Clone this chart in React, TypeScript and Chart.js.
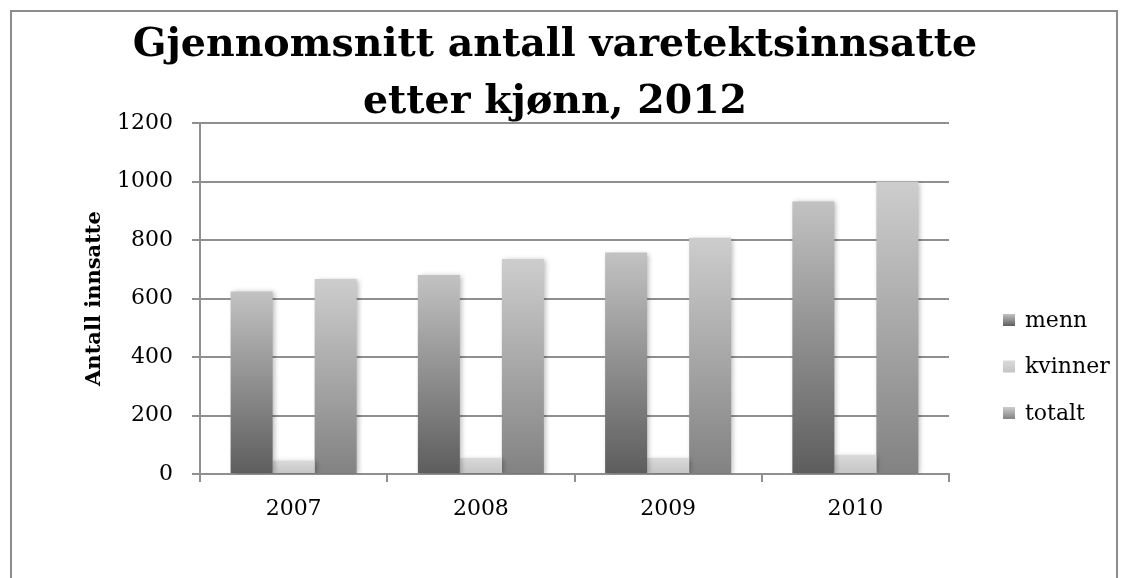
import React, { useEffect, useRef } from "react";
import { Chart, registerables } from "chart.js";

Chart.register(...registerables);

// ---- data ----
const years = ["2007", "2008", "2009", "2010"];
const menn = [624, 680, 757, 932];
const kvinner = [45, 55, 55, 65];
const totalt = [667, 735, 808, 1000];
const seriesLabels = ["menn", "kvinner", "totalt"];
const titleLines = ["Gjennomsnitt antall varetektsinnsatte", "etter kjønn, 2012"];
const yAxisTitle = "Antall innsatte";
const yMin = 0;
const yMax = 1200;
const yStep = 200;

// ---- styles ----
const FONT = "'DejaVu Serif', 'Liberation Serif', serif";
const GRID = "#8f8f8f";
const gradients: [string, string][] = [
  ["#5d5d5d", "#c2c2c2"],
  ["#c4c4c4", "#dadada"],
  ["#828282", "#cdcdcd"],
];

function barGradient(c: any, idx: number) {
  const [bottom, top] = gradients[idx];
  const chart = c.chart;
  const y = chart.scales && chart.scales.y;
  if (!chart.chartArea || !y || c.type !== "data") return bottom;
  const v = c.parsed ? c.parsed.y : c.raw;
  const yTop = y.getPixelForValue(v);
  const yBot = y.getPixelForValue(0);
  if (!isFinite(yTop) || !isFinite(yBot) || Math.abs(yTop - yBot) < 0.5) return bottom;
  const g = chart.ctx.createLinearGradient(0, yBot, 0, yTop);
  g.addColorStop(0, bottom);
  g.addColorStop(1, top);
  return g;
}

const shadowPlugin = {
  id: "barShadow",
  beforeDatasetsDraw(chart: any) {
    const c = chart.ctx;
    c.save();
    c.shadowColor = "rgba(0,0,0,0.28)";
    c.shadowBlur = 5;
    c.shadowOffsetX = 2;
    c.shadowOffsetY = 1;
  },
  afterDatasetsDraw(chart: any) {
    chart.ctx.restore();
  },
};

const legendPlugin = {
  id: "sideLegend",
  afterDraw(chart: any) {
    const c = chart.ctx;
    const boxX = chart.chartArea.right + 54;
    const firstY = 308;
    const gap = 46.5;
    c.save();
    c.font = `22px ${FONT}`;
    c.textBaseline = "middle";
    c.textAlign = "left";
    chart.data.datasets.forEach((ds: any, i: number) => {
      const cy = firstY + i * gap;
      const [bottom, top] = gradients[i];
      const g = c.createLinearGradient(0, cy + 6, 0, cy - 6);
      g.addColorStop(0, bottom);
      g.addColorStop(1, top);
      c.fillStyle = g;
      c.fillRect(boxX, cy - 6, 12, 12);
      c.fillStyle = "#000";
      c.fillText(ds.label, boxX + 22, cy + 1);
    });
    c.restore();
  },
};

export default function App() {
  const ref = useRef<HTMLCanvasElement | null>(null);

  useEffect(() => {
    if (!ref.current) return;
    const seriesValues = [menn, kvinner, totalt];
    const chart = new Chart(ref.current, {
      type: "bar",
      data: {
        labels: years,
        datasets: seriesValues.map((vals, i) => ({
          label: seriesLabels[i],
          data: vals,
          backgroundColor: (c: any) => barGradient(c, i),
          borderWidth: 0,
          categoryPercentage: 0.673,
          barPercentage: 1.0,
          yAxisID: "y",
        })),
      },
      options: {
        animation: false,
        responsive: true,
        maintainAspectRatio: false,
        layout: { padding: { left: 0, right: 18, top: 0, bottom: 0 } },
        plugins: {
          legend: { display: false },
          tooltip: { enabled: false },
          title: {
            display: true,
            text: titleLines,
            color: "#000",
            font: { family: FONT, size: 39.5, weight: "bold", lineHeight: "57px" },
            padding: { top: 5, bottom: -8 },
          },
        },
        scales: {
          x: {
            ticks: { font: { family: FONT, size: 22 }, color: "#000", padding: 14 },
            grid: {
              display: true,
              drawOnChartArea: false,
              drawTicks: true,
              tickLength: 8,
              color: GRID,
              lineWidth: 2,
              offset: true,
            },
            border: { color: GRID, width: 2 },
            afterFit(s: any) {
              s.height = 104;
            },
          },
          y: {
            min: yMin,
            max: yMax,
            ticks: {
              stepSize: yStep,
              font: { family: FONT, size: 22 },
              color: "#000",
              padding: 19,
              callback: (v: any) => String(v),
            },
            grid: { color: GRID, lineWidth: 2, tickLength: 8, drawTicks: true },
            border: { color: GRID, width: 2 },
            title: {
              display: true,
              text: yAxisTitle,
              color: "#000",
              font: { family: FONT, size: 21, weight: "bold" },
              padding: { top: 70, bottom: 0 },
            },
            afterFit(s: any) {
              s.width = 188;
            },
          },
          legendSpace: {
            type: "linear",
            position: "right",
            display: true,
            ticks: { display: false },
            grid: { display: false, drawTicks: false },
            border: { display: false },
            afterFit(s: any) {
              s.width = 149;
            },
          },
        },
      },
      plugins: [shadowPlugin, legendPlugin],
    });
    return () => chart.destroy();
  }, []);

  return (
    <div
      style={{
        position: "fixed",
        left: 10,
        top: 10,
        width: 1108,
        height: 568,
        boxSizing: "border-box",
        borderLeft: "2px solid #8c8c8c",
        borderTop: "2px solid #8c8c8c",
        borderRight: "2px solid #8c8c8c",
        background: "#fff",
      }}
    >
      <div style={{ position: "relative", width: 1104, height: 566 }}>
        <canvas ref={ref} />
      </div>
    </div>
  );
}
